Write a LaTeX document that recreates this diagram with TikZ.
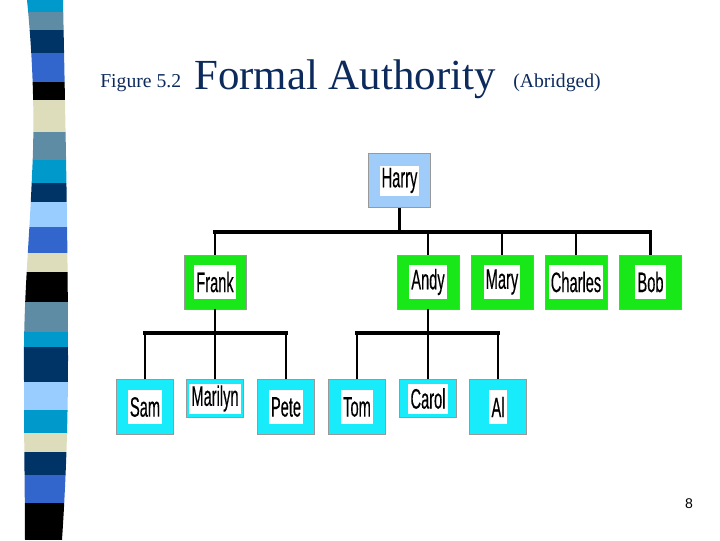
\documentclass[tikz,border=0pt]{standalone}
\usepackage{fontspec}
\setmainfont{Liberation Serif}
\newfontfamily\narrowsf[FakeStretch=0.52,FakeBold=0.3]{Liberation Sans}
\newfontfamily\pagesf{Liberation Sans}
\definecolor{titleink}{RGB}{12,42,92}
\definecolor{bossblue}{RGB}{160,204,250}
\definecolor{deptgreen}{RGB}{24,232,24}
\definecolor{staffcyan}{RGB}{24,236,250}
\definecolor{stripcyan}{RGB}{0,153,204}
\definecolor{stripsteel}{RGB}{95,140,165}
\definecolor{stripnavy}{RGB}{0,51,102}
\definecolor{stripblue}{RGB}{51,102,204}
\definecolor{stripbeige}{RGB}{221,221,187}
\definecolor{striplight}{RGB}{153,204,255}
\usetikzlibrary{positioning}

\begin{document}
\begin{tikzpicture}[x=0.025cm, y=-0.025cm,
    person/.style={draw=black!40, line width=0.4pt, inner sep=0pt,
      minimum width=1.55cm, minimum height=1.35cm},
    boss/.style={person, fill=bossblue},
    dept/.style={person, fill=deptgreen},
    staff/.style={person, fill=staffcyan, minimum width=1.43cm, minimum height=1.37cm},
    shortbox/.style={minimum height=0.94cm},
    tag/.style={fill=white, inner xsep=1.5pt, inner ysep=0pt, minimum height=0.84cm,
      font=\narrowsf\fontsize{20}{20}\selectfont},
    shorttag/.style={minimum height=0.75cm},
    bus/.style={line width=2.2pt, line cap=rect},
    drop/.style={line width=1.5pt}]
  \useasboundingbox (0,0) rectangle (720,540);

  % left stripe
  \begin{scope}
    \clip (27,0) .. controls (33,60) and (35,120) .. (32,175)
      .. controls (29,250) and (23,300) .. (24,380) .. controls (24,450) and (25,500) .. (25,540)
      -- (62,540) .. controls (66,480) and (68,420) .. (68,360)
      .. controls (68,250) and (66,150) .. (63,0) -- cycle;
    \foreach \ya/\yb/\c in {0/12/stripcyan, 12/30/stripsteel, 30/53/stripnavy, 53/82/stripblue,
        82/100/black, 100/132/stripbeige, 132/160/stripsteel, 160/183/stripcyan,
        183/202/stripnavy, 202/227/striplight, 227/253/stripblue, 253/272/stripbeige,
        272/302/black, 302/332/stripsteel, 332/347/stripcyan, 347/382/stripnavy,
        382/410/striplight, 410/433/stripcyan, 433/452/stripbeige, 452/475/stripnavy,
        475/503/stripblue, 503/540/black}
      \fill[\c] (0,\ya) rectangle (80,\yb);
  \end{scope}

  % title
  \node[anchor=base west, inner sep=0pt, text=titleink, font=\fontsize{14}{14}\selectfont] (fig) at (100,87) {Figure 5.2};
  \node[anchor=base west, inner sep=0pt, text=titleink, font=\fontsize{30.5}{30}\selectfont] (title) at (194,89) {Formal Authority};
  \node[anchor=base west, inner sep=0pt, text=titleink, font=\fontsize{14}{14}\selectfont] (abr) at (513,87) {(Abridged)};

  % boxes
  \node[boss] (harry) at (399.5,180.5) {};
  \node[tag, shorttag] (harry-t) at (harry) {Harry};

  \node[dept] (frank) at (215,282) {};
  \node[dept] (andy) at (428,282) {};
  \node[dept] (mary) at (502,282) {};
  \node[dept] (charles) at (576,282) {};
  \node[dept] (bob) at (650.5,282) {};
  \node[tag] (frank-t) at (frank) {Frank};
  \node[tag] (andy-t) at (andy) {Andy};
  \node[tag] (mary-t) at (mary) {Mary};
  \node[tag] (charles-t) at (charles) {Charles};
  \node[tag] (bob-t) at (bob) {Bob};

  \node[staff] (sam) at (145,407) {};
  \node[staff, shortbox] (marilyn) at (215,398.5) {};
  \node[staff] (pete) at (286,407) {};
  \node[staff] (tom) at (357,407) {};
  \node[staff, shortbox] (carol) at (428,398.5) {};
  \node[staff] (al) at (498,407) {};
  \node[tag] (sam-t) at (sam) {Sam};
  \node[tag, shorttag] (marilyn-t) at (marilyn) {Marilyn};
  \node[tag] (pete-t) at (pete) {Pete};
  \node[tag] (tom-t) at (tom) {Tom};
  \node[tag, shorttag] (carol-t) at (carol) {Carol};
  \node[tag] (al-t) at (al) {Al};

  % lines
  \coordinate (top-bus) at (0,232);
  \coordinate (low-bus) at (0,333);
  \draw[drop] (harry.south) -- (harry.south |- top-bus);
  \foreach \n in {frank,andy,mary,charles,bob}
    \draw[drop] (\n.north) -- (\n.north |- top-bus);
  \draw[bus] (frank.north |- top-bus) -- (bob.north |- top-bus);

  \draw[drop] (frank.south) -- (frank.south |- low-bus);
  \foreach \n in {sam,marilyn,pete}
    \draw[drop] (\n.north) -- (\n.north |- low-bus);
  \draw[bus] (sam.north |- low-bus) -- (pete.north |- low-bus);

  \draw[drop] (andy.south) -- (andy.south |- low-bus);
  \foreach \n in {tom,carol,al}
    \draw[drop] (\n.north) -- (\n.north |- low-bus);
  \draw[bus] (tom.north |- low-bus) -- (al.north |- low-bus);

  % page number
  \node[font=\pagesf\fontsize{10}{10}\selectfont, inner sep=0pt] (pageno) at (689,504) {8};
\end{tikzpicture}
\end{document}
